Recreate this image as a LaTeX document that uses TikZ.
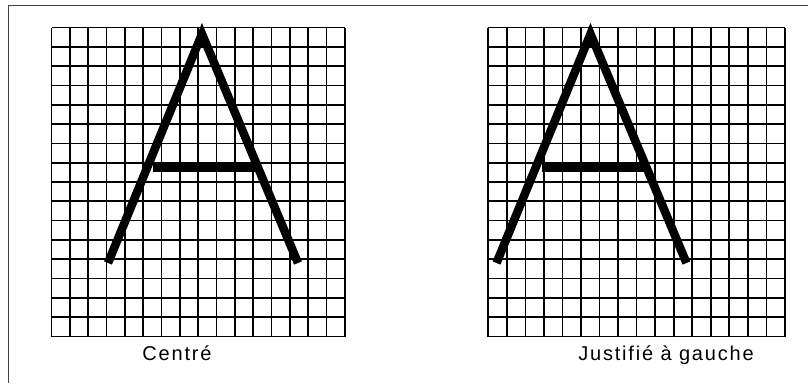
\documentclass[tikz,border=0pt]{standalone}
\usepackage{fontspec}
\setmainfont{Liberation Sans}
\begin{document}
\begin{tikzpicture}[x=1pt,y=-1pt,
    gridline/.style={line width=1.7pt},
    letterstroke/.style={line width=8.5pt,miter limit=10},
    caption/.style={anchor=base,font=\fontsize{20}{24}\selectfont\addfontfeature{LetterSpace=9}}]
    \useasboundingbox (0,0) rectangle (808,383);
    % frame, cut at the right and bottom
    \draw [line width=1.8pt,black!75] (8.5,383) -- (8.5,5.5) -- (808,5.5);
    % left grid
    \foreach \i in {0,...,16} {
        \draw [gridline] ({51.5+\i*18.34},27.5) -- ++(0,309);
        \draw [gridline] (51.5,{27.5+\i*19.31}) -- ++(293.5,0);
    }
    % right grid
    \foreach \i in {0,...,16} {
        \draw [gridline] ({488.3+\i*18.54},27.5) -- ++(0,309);
        \draw [gridline] (488.3,{27.5+\i*19.31}) -- ++(296.7,0);
    }
    % centred letter
    \draw [letterstroke] (108,263) -- (202,34) -- (298,263);
    \draw [letterstroke] (153,168) -- (257,168);
    % letter pushed to the left
    \begin{scope}[xshift=388.5]
        \draw [letterstroke] (108,263) -- (202,34) -- (298,263);
        \draw [letterstroke] (153,168) -- (257,168);
    \end{scope}
    \path (177,360) node [caption] (centre) {Centré};
    \path (666,360) node [caption] (gauche) {Justifié à gauche};
\end{tikzpicture}
\end{document}
